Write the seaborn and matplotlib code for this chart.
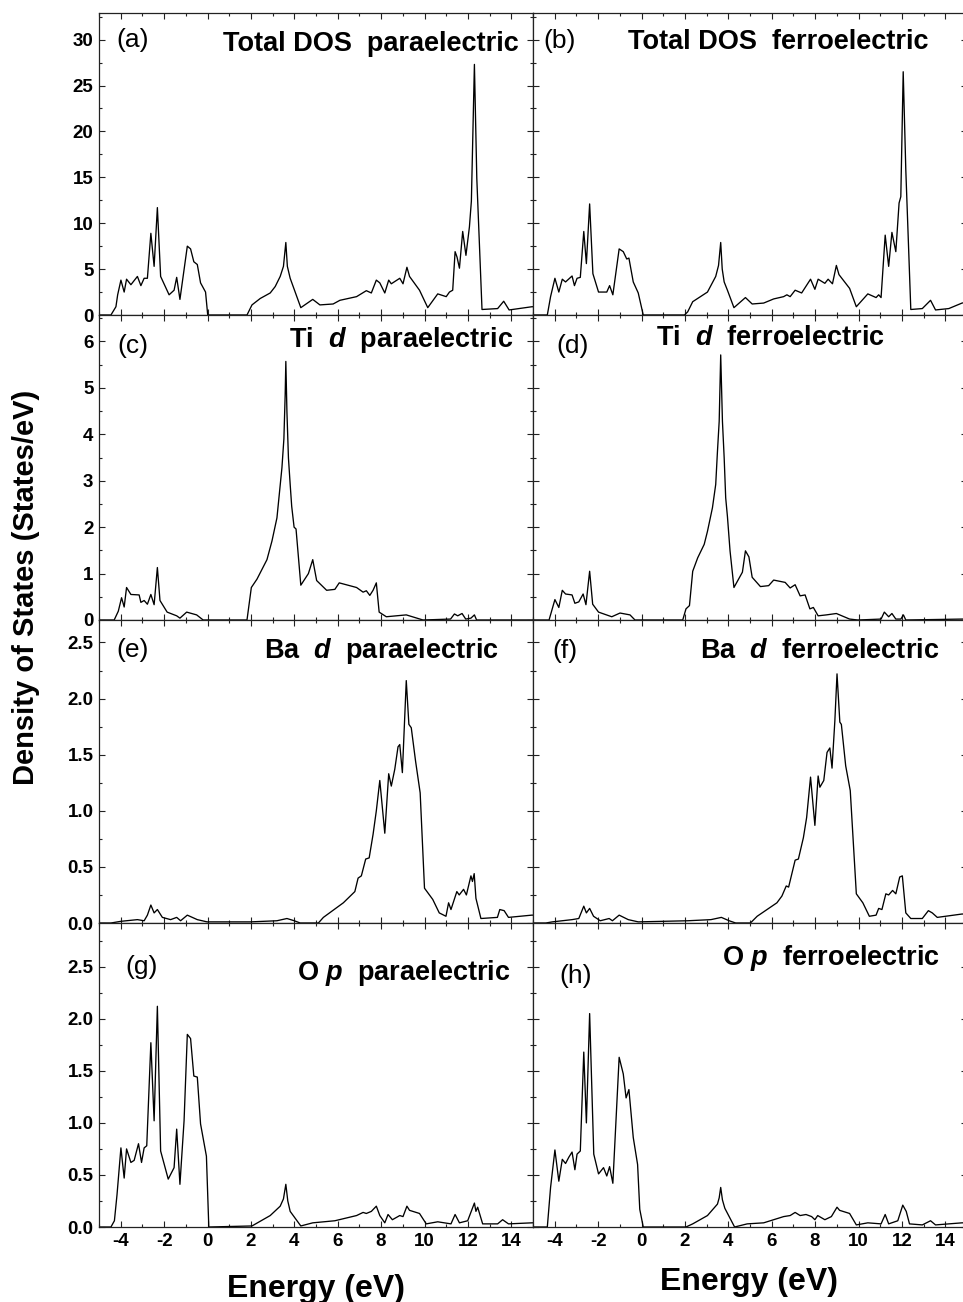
import matplotlib
matplotlib.use("Agg")
import matplotlib.pyplot as plt
import seaborn as sns
import pandas as pd
from matplotlib.ticker import MultipleLocator

# ---------------- data (Energy in eV, DOS in States/eV) ----------------
a_x = [-5.0, -4.45, -4.22, -4.14, -3.99, -3.84, -3.73, -3.53, -3.23, -3.07, -2.92, -2.77, -2.61, -2.46, -2.31,
       -2.16, -1.77, -1.54, -1.42, -1.27, -0.93, -0.78, -0.63, -0.47, -0.32, -0.09, 0.01, 1.82, 2.05, 2.43, 2.89,
       3.12, 3.35, 3.5, 3.61, 3.68, 3.81, 4.04, 4.30, 4.85, 5.18, 5.79, 6.10, 6.87, 7.32, 7.55, 7.78, 7.94, 8.17,
       8.35, 8.47, 8.86, 9.01, 9.19, 9.31, 9.77, 10.15, 10.61, 11.0, 11.15, 11.30, 11.41, 11.50, 11.61, 11.76,
       11.91, 12.07, 12.16, 12.30, 12.41, 12.65, 13.37, 13.65, 13.9, 14.95, 15.0]
a_y = [0, 0, 0.9, 2.2, 3.8, 2.5, 3.9, 3.3, 4.2, 3.2, 4.0, 4.0, 8.9, 5.3, 11.7,
       4.2, 2.2, 2.7, 4.1, 1.7, 7.5, 7.2, 5.8, 5.5, 3.5, 2.5, 0, 0, 1.1, 1.8, 2.4,
       3.1, 4.2, 5.3, 7.9, 5.3, 4.0, 2.5, 0.8, 1.7, 1.1, 1.2, 1.6, 2.0, 2.65, 2.4, 3.8, 3.5, 2.4,
       3.8, 3.4, 4.0, 3.4, 5.2, 4.2, 2.7, 0.8, 2.3, 2.0, 2.5, 2.7, 6.9, 6.3, 5.1, 9.1,
       6.5, 9.6, 12.4, 27.3, 14.9, 0.6, 0.7, 1.5, 0.55, 0.9, 0.9]

b_x = [-5.0, -4.34, -4.19, -3.99, -3.81, -3.65, -3.5, -3.2, -3.09, -2.97, -2.82, -2.66, -2.54, -2.39, -2.24,
       -1.98, -1.60, -1.47, -1.32, -1.03, -0.84, -0.68, -0.58, -0.38, -0.15, 0.08, 1.98, 2.13, 2.36, 3.04,
       3.42, 3.55, 3.65, 3.72, 3.81, 3.96, 4.26, 4.79, 5.1, 5.63, 6.09, 6.55, 6.7, 6.85, 7.08, 7.38, 7.79, 7.99,
       8.14, 8.45, 8.6, 8.8, 8.98, 9.1, 9.59, 9.9, 10.43, 10.81, 10.93, 11.04, 11.23, 11.39, 11.54, 11.72,
       11.87, 11.95, 12.06, 12.18, 12.41, 12.94, 13.32, 13.55, 14.16, 14.77, 15.0]
b_y = [0, 0, 2.0, 4.0, 2.5, 3.9, 3.6, 4.25, 3.2, 4.0, 4.1, 9.1, 5.6, 12.1, 4.5,
       2.5, 2.5, 3.2, 2.2, 7.2, 6.9, 6.1, 6.2, 3.6, 2.4, 0, 0, 0.35, 1.45, 2.5,
       4.2, 5.4, 7.9, 5.0, 3.6, 2.7, 0.8, 1.9, 1.2, 1.3, 1.75, 2.0, 2.2, 2.0, 2.7, 2.4, 3.9, 2.8,
       3.9, 3.45, 3.9, 3.4, 5.4, 4.4, 2.9, 0.9, 2.3, 1.9, 2.2, 1.9, 8.7, 5.3, 9.0, 6.9,
       12.2, 12.9, 26.5, 15.8, 0.6, 0.7, 1.6, 0.55, 0.7, 1.3, 1.4]

c_x = [-5.0, -4.3, -4.11, -3.96, -3.84, -3.73, -3.53, -3.15, -3.07, -2.92, -2.77, -2.61, -2.46, -2.31, -2.19,
       -1.86, -1.42, -1.27, -0.96, -0.5, -0.2, 1.82, 2.02, 2.28, 2.74, 2.97, 3.2, 3.43, 3.52, 3.58, 3.61, 3.66,
       3.73, 3.81, 3.88, 3.99, 4.08, 4.30, 4.65, 4.85, 5.03, 5.49, 5.87, 6.07, 6.87, 7.17, 7.32, 7.48, 7.63,
       7.78, 7.91, 8.24, 8.7, 9.16, 9.93, 11.2, 11.38, 11.53, 11.73, 11.9, 12.14, 12.3, 12.4, 15.0]
c_y = [0, 0, 0.19, 0.48, 0.28, 0.70, 0.55, 0.54, 0.38, 0.42, 0.34, 0.55, 0.33, 1.13, 0.42,
       0.17, 0.09, 0.04, 0.17, 0.11, 0, 0, 0.70, 0.88, 1.3, 1.7, 2.2, 3.28, 3.9, 4.86, 5.57, 4.49,
       3.49, 2.92, 2.45, 2.0, 1.96, 0.75, 1.0, 1.3, 0.85, 0.64, 0.66, 0.80, 0.70, 0.6, 0.63, 0.53, 0.64,
       0.80, 0.17, 0.07, 0.09, 0.11, 0.0, 0.02, 0.13, 0.09, 0.14, 0.02, 0.04, 0.11, 0, 0]

d_x = [-5.0, -4.26, -3.99, -3.81, -3.65, -3.5, -3.2, -3.07, -2.89, -2.69, -2.56, -2.39, -2.25, -1.98, -1.37,
       -0.99, -0.53, -0.30, 1.9, 2.05, 2.21, 2.36, 2.59, 2.89, 3.04, 3.27, 3.42, 3.50, 3.58, 3.65, 3.73, 3.81,
       3.88, 3.96, 4.08, 4.26, 4.65, 4.79, 4.95, 5.1, 5.48, 5.86, 6.09, 6.62, 6.85, 7.08, 7.31, 7.54, 7.76,
       7.92, 8.14, 8.52, 8.98, 9.59, 9.97, 11.04, 11.19, 11.39, 11.54, 11.72, 11.95, 12.07, 12.18, 14.77, 15.0]
d_y = [0, 0, 0.44, 0.27, 0.64, 0.56, 0.54, 0.36, 0.39, 0.56, 0.33, 1.05, 0.34, 0.17, 0.07,
       0.15, 0.11, 0, 0, 0.24, 0.31, 1.05, 1.34, 1.63, 1.91, 2.42, 2.92, 3.63, 4.28, 5.71, 4.28, 3.49,
       2.63, 2.23, 1.49, 0.70, 1.03, 1.49, 1.36, 0.92, 0.72, 0.74, 0.86, 0.81, 0.69, 0.76, 0.52, 0.54, 0.24,
       0.27, 0.09, 0.11, 0.14, 0.02, 0, 0.02, 0.17, 0.07, 0.14, 0.02, 0.02, 0.11, 0, 0.02, 0.02]

e_x = [-5.0, -4.45, -3.99, -3.23, -2.92, -2.77, -2.61, -2.46, -2.31, -2.08, -1.7, -1.42, -1.24, -0.93, -0.47,
       -0.02, 1.98, 3.2, 3.66, 4.0, 4.27, 5.11, 5.34, 6.26, 6.79, 6.94, 7.09, 7.29, 7.45, 7.63, 7.78, 7.94,
       8.17, 8.35, 8.47, 8.63, 8.78, 8.86, 8.98, 9.16, 9.28, 9.39, 9.59, 9.8, 10.0, 10.38, 10.68, 10.99,
       11.11, 11.22, 11.49, 11.6, 11.8, 11.93, 12.14, 12.21, 12.29, 12.37, 12.6, 13.36, 13.47, 13.67, 13.87,
       14.94, 15.0]
e_y = [0, 0, 0.015, 0.03, 0.02, 0.07, 0.16, 0.09, 0.12, 0.05, 0.03, 0.05, 0.02, 0.07, 0.03,
       0.01, 0.01, 0.02, 0.04, 0.02, 0, 0, 0.05, 0.18, 0.28, 0.40, 0.42, 0.57, 0.58, 0.79, 1.0, 1.27,
       0.8, 1.33, 1.22, 1.37, 1.57, 1.59, 1.34, 2.16, 1.77, 1.74, 1.44, 1.16, 0.31, 0.21, 0.09, 0.06,
       0.18, 0.12, 0.28, 0.25, 0.30, 0.25, 0.42, 0.37, 0.44, 0.22, 0.04, 0.05, 0.12, 0.11, 0.05,
       0.07, 0.07]

f_x = [-5.0, -4.41, -4.11, -3.2, -2.89, -2.66, -2.54, -2.39, -2.21, -1.9, -1.49, -1.34, -1.03, -0.61, -0.15,
       2.13, 3.2, 3.68, 4.04, 4.34, 5.02, 5.33, 6.24, 6.47, 6.67, 6.78, 7.08, 7.23, 7.46, 7.61, 7.79, 7.99,
       8.14, 8.22, 8.4, 8.55, 8.68, 8.78, 8.91, 9.01, 9.14, 9.21, 9.41, 9.62, 9.9, 10.2, 10.5, 10.81, 10.93,
       11.08, 11.26, 11.39, 11.57, 11.72, 11.9, 12.02, 12.18, 12.41, 12.94, 13.22, 13.4, 13.63, 14.77, 15.0]
f_y = [0, 0, 0.01, 0.03, 0.04, 0.15, 0.09, 0.13, 0.06, 0.02, 0.04, 0.02, 0.07, 0.03, 0.01,
       0.02, 0.03, 0.05, 0.02, 0, 0, 0.06, 0.18, 0.24, 0.33, 0.32, 0.56, 0.57, 0.76, 0.94, 1.30, 0.87,
       1.31, 1.21, 1.27, 1.52, 1.56, 1.38, 1.8, 2.22, 1.79, 1.77, 1.4, 1.18, 0.26, 0.18, 0.06, 0.07, 0.13,
       0.12, 0.26, 0.25, 0.29, 0.26, 0.41, 0.42, 0.09, 0.04, 0.04, 0.11, 0.09, 0.05, 0.08, 0.08]

g_x = [-5.0, -4.45, -4.29, -4.17, -3.99, -3.84, -3.73, -3.53, -3.38, -3.18, -3.04, -2.92, -2.80, -2.61, -2.46,
       -2.31, -2.16, -1.81, -1.54, -1.42, -1.27, -1.08, -0.93, -0.78, -0.63, -0.47, -0.32, -0.05, 0.06, 2.05,
       2.89, 3.35, 3.5, 3.61, 3.7, 3.81, 4.30, 4.85, 5.87, 6.87, 7.17, 7.32, 7.55, 7.78, 7.94, 8.17, 8.32, 8.52,
       8.86, 9.01, 9.19, 9.31, 9.77, 10.08, 10.61, 11.22, 11.41, 11.61, 11.99, 12.30, 12.37, 12.45, 12.68,
       13.37, 13.6, 13.87, 14.95, 15.0]
g_y = [0, 0, 0.06, 0.31, 0.76, 0.47, 0.75, 0.62, 0.64, 0.80, 0.62, 0.76, 0.78, 1.77, 1.02,
       2.12, 0.73, 0.46, 0.57, 0.94, 0.41, 1.02, 1.85, 1.81, 1.45, 1.44, 0.99, 0.68, 0, 0.01,
       0.11, 0.2, 0.27, 0.41, 0.25, 0.15, 0.01, 0.04, 0.06, 0.11, 0.14, 0.13, 0.15, 0.2, 0.11, 0.04, 0.12, 0.07,
       0.11, 0.1, 0.2, 0.16, 0.13, 0.03, 0.05, 0.03, 0.12, 0.04, 0.06, 0.23, 0.15, 0.19, 0.03,
       0.03, 0.07, 0.03, 0.04, 0.04]

h_x = [-5.0, -4.34, -4.19, -3.99, -3.81, -3.65, -3.5, -3.35, -3.2, -3.07, -2.97, -2.82, -2.66, -2.54, -2.39,
       -2.2, -1.98, -1.75, -1.60, -1.47, -1.32, -1.03, -0.84, -0.71, -0.58, -0.38, -0.18, -0.08, 0.08, 2.05,
       2.36, 3.04, 3.5, 3.58, 3.65, 3.73, 3.84, 4.29, 4.87, 5.63, 6.55, 6.85, 7.08, 7.31, 7.58, 7.84, 7.99,
       8.12, 8.45, 8.75, 9.01, 9.13, 9.59, 9.9, 10.43, 11.04, 11.23, 11.39, 11.81, 12.04, 12.2, 12.35, 12.94,
       13.32, 13.55, 14.77, 15.0]
h_y = [0, 0, 0.38, 0.74, 0.44, 0.65, 0.61, 0.67, 0.72, 0.55, 0.70, 0.73, 1.68, 1.00, 2.05,
       0.70, 0.51, 0.57, 0.49, 0.58, 0.42, 1.63, 1.47, 1.24, 1.32, 0.86, 0.60, 0.17, 0, 0,
       0.03, 0.11, 0.22, 0.28, 0.38, 0.26, 0.18, 0, 0.03, 0.04, 0.1, 0.11, 0.14, 0.11, 0.12, 0.1, 0.07,
       0.11, 0.07, 0.1, 0.19, 0.16, 0.13, 0.02, 0.04, 0.03, 0.12, 0.03, 0.06, 0.21, 0.15, 0.03, 0.02,
       0.06, 0.02, 0.04, 0.04]

panel_labels = ["(a)", "(b)", "(c)", "(d)", "(e)", "(f)", "(g)", "(h)"]
panel_titles = ["Total DOS  paraelectric", "Total DOS  ferroelectric",
                r"Ti  $\mathit{d}$  paraelectric", r"Ti  $\mathit{d}$  ferroelectric",
                r"Ba  $\mathit{d}$  paraelectric", r"Ba  $\mathit{d}$  ferroelectric",
                r"O $\mathit{p}$  paraelectric", r"O $\mathit{p}$  ferroelectric"]
series_x = [a_x, b_x, c_x, d_x, e_x, f_x, g_x, h_x]
series_y = [a_y, b_y, c_y, d_y, e_y, f_y, g_y, h_y]
row_ymax = [32.9, 6.57, 2.70, 2.92]
row_major = [5, 1, 0.5, 0.5]
row_minor = [2.5, 0.5, 0.25, 0.25]

# ---------------- style ----------------
sns.set_style("ticks")
plt.rcParams["font.family"] = ["Liberation Sans", "DejaVu Sans"]
plt.rcParams["text.color"] = "black"
plt.rcParams["mathtext.fontset"] = "custom"
plt.rcParams["mathtext.it"] = "Liberation Sans:italic:bold"
plt.rcParams["mathtext.rm"] = "Liberation Sans:bold"
plt.rcParams["mathtext.bf"] = "Liberation Sans:bold"
plt.rcParams["axes.unicode_minus"] = False

W, H = 963, 1302
fig = plt.figure(figsize=(W / 100, H / 100), dpi=100)

col_left = [99, 533]
col_w = 434
row_top = [13, 315, 620, 923]
row_bot = [315, 620, 923, 1227]

label_pos = [(116, 46.5), (543, 48), (117, 353), (556, 353),
             (116, 657), (552, 658), (125, 974), (559, 983)]
title_pos = [(370.5, 51), (778.5, 49), (401, 347), (770.5, 345),
             (381.5, 658), (820, 658), (404, 980), (831, 965)]

for i in range(8):
    r, c = divmod(i, 2)
    x0 = col_left[c] / W
    y0 = 1 - row_bot[r] / H
    h = (row_bot[r] - row_top[r]) / H
    ax = fig.add_axes([x0, y0, col_w / W, h])
    df = pd.DataFrame({"Energy": series_x[i], "DOS": series_y[i]})
    sns.lineplot(data=df, x="Energy", y="DOS", ax=ax, color="black", linewidth=0.95,
                 estimator=None, sort=False)
    ax.set_xlim(-5, 15)
    ax.set_ylim(0, row_ymax[r])
    ax.xaxis.set_major_locator(MultipleLocator(2))
    ax.xaxis.set_minor_locator(MultipleLocator(1))
    ax.yaxis.set_major_locator(MultipleLocator(row_major[r]))
    ax.yaxis.set_minor_locator(MultipleLocator(row_minor[r]))
    ax.tick_params(which="both", direction="in", top=True, right=True, width=0.8,
                   colors="#222222", labelcolor="black")
    ax.tick_params(which="major", length=4, pad=4, labelsize=13.5)
    ax.tick_params(which="minor", length=2.5)
    for lab in ax.get_xticklabels() + ax.get_yticklabels():
        lab.set_fontweight("bold")
    ax.tick_params(labelleft=(c == 0), labelbottom=(r == 3))
    ax.set_xlabel("")
    ax.set_ylabel("")
    for s in ax.spines.values():
        s.set_linewidth(0.9)
        s.set_color("#222222")

    lx, ly = label_pos[i]
    fig.text(lx / W, 1 - ly / H, panel_labels[i], fontsize=19, ha="left", va="baseline",
             color="black")
    tx, ty = title_pos[i]
    fig.text(tx / W, 1 - ty / H, panel_titles[i], fontsize=19.5, fontweight="bold",
             ha="center", va="baseline", color="black")

fig.text(26 / W, 1 - 587 / H, "Density of States (States/eV)", rotation=90,
         fontsize=21, fontweight="bold", ha="center", va="center", color="black")
fig.text(316 / W, 1 - 1297 / H, "Energy (eV)", fontsize=23, fontweight="bold",
         ha="center", va="baseline", color="black")
fig.text(749 / W, 1 - 1290 / H, "Energy (eV)", fontsize=23, fontweight="bold",
         ha="center", va="baseline", color="black")

fig.savefig("out.png", dpi=100)
